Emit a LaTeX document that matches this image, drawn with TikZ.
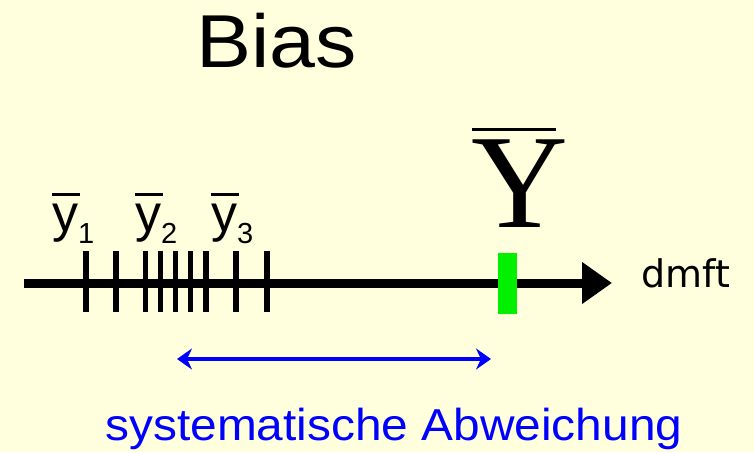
\documentclass[tikz,border=0pt]{standalone}
\usepackage{fontspec}
\setmainfont{Liberation Sans}
\newfontfamily\serifY{Liberation Serif}
\newfontfamily\dejavu{DejaVu Sans}
\usetikzlibrary{arrows.meta}
\definecolor{bgyellow}{RGB}{255,255,221}
\definecolor{barblue}{RGB}{0,0,255}
\definecolor{bargreen}{RGB}{0,240,0}
\newcommand\ylab[1]{\fontsize{52}{52}\selectfont\rlap{\raisebox{35.5pt}{\rule{28pt}{3pt}}}y\raisebox{-12pt}{\fontsize{29}{29}\selectfont #1}}
\begin{document}
\begin{tikzpicture}[x=1pt,y=-1pt,
  txt/.style={inner sep=0pt,outer sep=0pt,anchor=base west},
  tickmark/.style={line width=5.5pt},
  axis/.style={line width=9pt,-{Triangle[length=30pt,width=40pt]}},
  bias/.style={line width=3.5pt,barblue,{Stealth[length=15pt,width=21pt,inset=5pt]}-{Stealth[length=15pt,width=21pt,inset=5pt]}}]
\useasboundingbox (0,0) rectangle (754,452);
\fill[bgyellow] (0,0) rectangle (754,452);
% title
\node[txt,xscale=1.1] (title) at (196,67) {\fontsize{75}{75}\selectfont Bias};
% axis
\coordinate (axL) at (24,283);
\coordinate (axR) at (612,283);
\draw[axis] (axL) -- (axR);
% ticks
\foreach \i/\x in {1/86,2/116,3/145.5,4/160.5,5/175.5,6/190.5,7/206,8/236,9/267}{
  \coordinate (t\i a) at (\x,251);
  \coordinate (t\i b) at (\x,312);
  \draw[tickmark] (t\i a) -- (t\i b);
}
% green bar
\node[fill=bargreen,minimum width=19pt,minimum height=61pt,inner sep=0pt] (ytrue) at (507.5,283.5) {};
% labels
\node[txt] (y1) at (52,231) {\ylab{1}};
\node[txt] (y2) at (135,231) {\ylab{2}};
\node[txt] (y3) at (211,231) {\ylab{3}};
\node[txt] (Ybar) at (471,227) {\fontsize{134}{134}\selectfont\serifY\rlap{\hspace{1pt}\raisebox{96.5pt}{\rule{84pt}{3pt}}}Y};
\node[txt] (dmft) at (641.5,287) {\fontsize{38}{38}\selectfont\dejavu dmft};
% bias arrow
\coordinate (bL) at (177,359);
\coordinate (bR) at (491,359);
\draw[bias] (bL) -- (bR);
\node[txt,xscale=1.07,text=barblue] (sys) at (105.5,440) {\fontsize{44.7}{44.7}\selectfont systematische Abweichung};
\end{tikzpicture}
\end{document}
